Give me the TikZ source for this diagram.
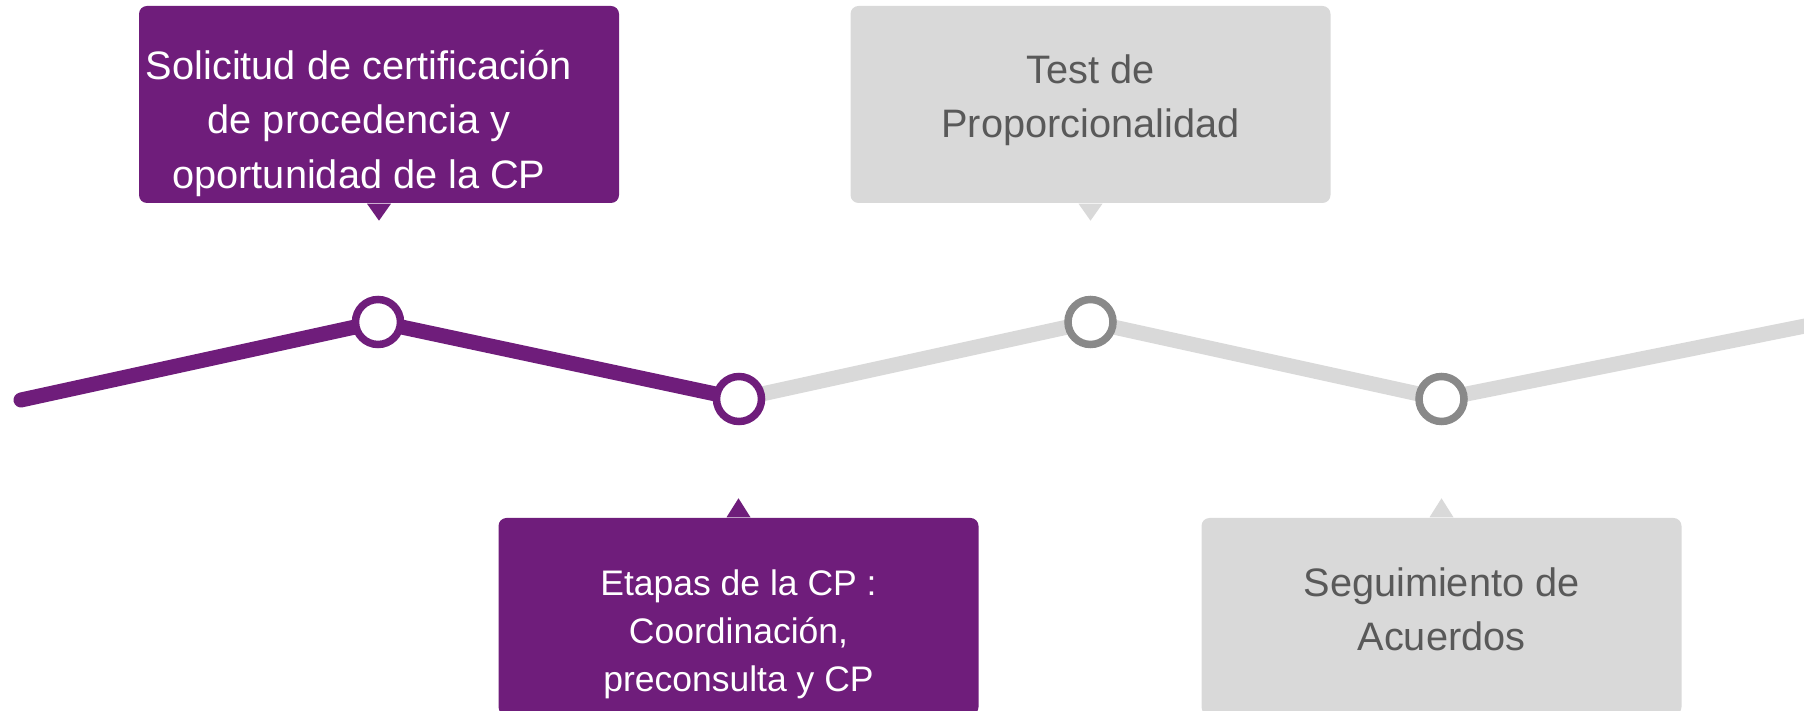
\documentclass[tikz,border=0pt]{standalone}
\usepackage{fontspec}
\setmainfont{Liberation Sans}
\usepackage{xcolor}
\usepackage{tikz}
\usetikzlibrary{backgrounds}

\definecolor{cpPurple}{HTML}{6F1D7B}
\definecolor{cpGrey}{HTML}{D9D9D9}
\definecolor{cpText}{HTML}{595959}
\definecolor{cpRing}{HTML}{898989}

\begin{document}
\begin{tikzpicture}
	\tikzstyle{every node}=[font=\fontsize{11.3}{15.4}\selectfont];
	\tikzstyle{stage}=[circle, fill=white, line width=0.075cm, minimum size=0.45cm, inner sep=0pt];
	\tikzstyle{card}=[rectangle, rounded corners=0.08cm, minimum width=4.8cm, minimum height=1.97cm, inner sep=0pt];
	\tikzstyle{cardtext}=[align=center, inner sep=0pt];

	\useasboundingbox (0, 0) rectangle (18.04, -7.11);
	\clip (0, 0) rectangle (18.04, -7.11);

	%Stages
	\coordinate (start) at (0.21, -4.00);
	\node[stage, draw=cpPurple] (c1) at (3.78, -3.22) {};
	\node[stage, draw=cpPurple] (c2) at (7.39, -3.99) {};
	\node[stage, draw=cpRing] (c3) at (10.905, -3.22) {};
	\node[stage, draw=cpRing] (c4) at (14.415, -3.99) {};
	\coordinate (finish) at (18.30, -3.21);

	%Track
	\begin{scope}[on background layer]
		\draw[cpGrey, line width=0.15cm, line cap=round, line join=round] (c2.center) -- (c3.center) -- (c4.center) -- (finish);
		\draw[cpPurple, line width=0.15cm, line cap=round, line join=round] (start) -- (c1.center) -- (c2.center);
	\end{scope}

	%Top cards
	\node[card, fill=cpPurple] (b1) at (3.79, -1.045) {};
	\fill[cpPurple] ([xshift=-0.12cm]b1.south) -- ([xshift=0.12cm]b1.south) -- ([yshift=-0.17cm]b1.south) -- cycle;
	\node[cardtext, text=white] (t1) at (3.59, -1.235) {Solicitud de certificación\\de procedencia y\\oportunidad de la CP};

	\node[card, fill=cpGrey] (b2) at (10.905, -1.045) {};
	\fill[cpGrey] ([xshift=-0.12cm]b2.south) -- ([xshift=0.12cm]b2.south) -- ([yshift=-0.17cm]b2.south) -- cycle;
	\node[cardtext, text=cpText] (t2) at (10.905, -1.005) {Test de\\Proporcionalidad};

	%Bottom cards
	\node[card, fill=cpPurple] (b3) at (7.385, -6.165) {};
	\fill[cpPurple] ([xshift=-0.12cm]b3.north) -- ([xshift=0.12cm]b3.north) -- ([yshift=0.19cm]b3.north) -- cycle;
	\node[cardtext, text=white, font=\fontsize{10.1}{13.7}\selectfont] (t3) at (7.385, -6.345) {Etapas de la CP :\\Coordinación,\\preconsulta y CP};

	\node[card, fill=cpGrey] (b4) at (14.415, -6.165) {};
	\fill[cpGrey] ([xshift=-0.12cm]b4.north) -- ([xshift=0.12cm]b4.north) -- ([yshift=0.19cm]b4.north) -- cycle;
	\node[cardtext, text=cpText] (t4) at (14.415, -6.09) {Seguimiento de\\Acuerdos};

\end{tikzpicture}
\end{document}
